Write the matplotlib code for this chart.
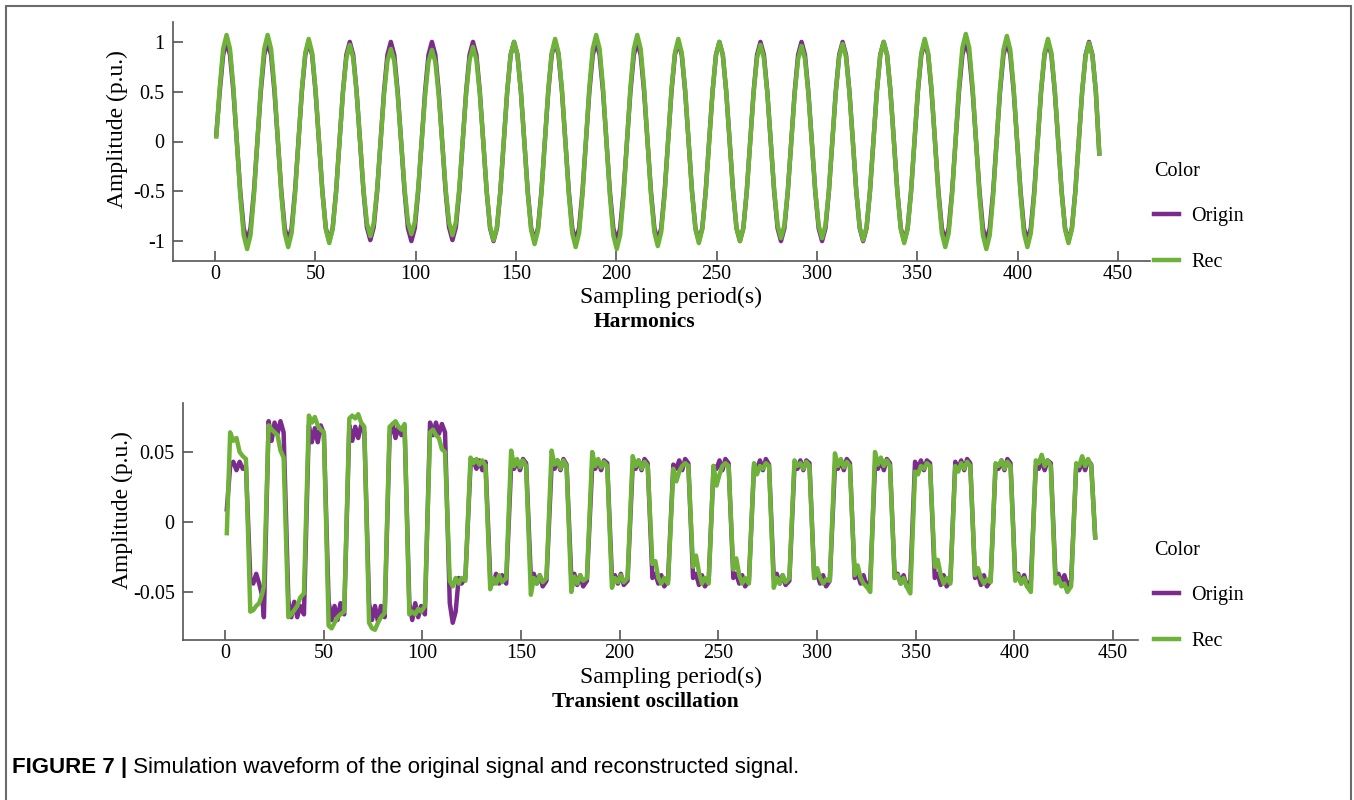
import numpy as np
import matplotlib.pyplot as plt
from matplotlib.patches import Rectangle

# ---- data ----
# Harmonics: one row per cycle (rising zero, ..., peak, ..., trough, ...), 12 samples per cycle
harm_start, harm_end = 0.68, 440.72
harm_origin_rows = [
    [0.07, 0.50, 0.87, 1.00, 0.87, 0.50, 0.0, -0.50, -0.87, -1.00, -0.87, -0.50],
    [0.0, 0.50, 0.87, 1.00, 0.87, 0.50, 0.0, -0.50, -0.87, -1.00, -0.87, -0.50],
    [0.0, 0.50, 0.87, 1.00, 0.87, 0.50, 0.0, -0.50, -0.87, -1.00, -0.87, -0.50],
    [0.0, 0.50, 0.87, 1.00, 0.87, 0.50, 0.0, -0.50, -0.86, -0.99, -0.86, -0.50],
    [0.0, 0.50, 0.87, 1.00, 0.87, 0.50, 0.0, -0.50, -0.87, -1.00, -0.87, -0.50],
    [0.0, 0.50, 0.87, 1.00, 0.87, 0.50, 0.0, -0.50, -0.86, -0.99, -0.86, -0.50],
    [0.0, 0.50, 0.87, 1.00, 0.87, 0.50, 0.0, -0.50, -0.87, -1.00, -0.87, -0.50],
    [0.0, 0.50, 0.87, 1.00, 0.87, 0.50, 0.0, -0.50, -0.87, -1.00, -0.87, -0.50],
    [0.0, 0.50, 0.87, 1.00, 0.87, 0.50, 0.0, -0.50, -0.87, -1.00, -0.87, -0.50],
    [0.0, 0.50, 0.87, 1.00, 0.87, 0.50, 0.0, -0.50, -0.87, -1.00, -0.87, -0.50],
    [0.0, 0.50, 0.87, 1.00, 0.87, 0.50, 0.0, -0.50, -0.87, -1.00, -0.87, -0.50],
    [0.0, 0.50, 0.87, 1.00, 0.87, 0.50, 0.0, -0.50, -0.87, -1.00, -0.87, -0.50],
    [0.0, 0.50, 0.87, 1.00, 0.87, 0.50, 0.0, -0.50, -0.87, -1.00, -0.87, -0.50],
    [0.0, 0.50, 0.87, 1.00, 0.87, 0.50, 0.0, -0.50, -0.87, -1.00, -0.87, -0.50],
    [0.0, 0.50, 0.87, 1.00, 0.87, 0.50, 0.0, -0.50, -0.87, -1.00, -0.87, -0.50],
    [0.0, 0.50, 0.87, 1.00, 0.87, 0.50, 0.0, -0.50, -0.87, -1.00, -0.87, -0.50],
    [0.0, 0.50, 0.87, 1.00, 0.87, 0.50, 0.0, -0.50, -0.87, -1.00, -0.87, -0.50],
    [0.0, 0.50, 0.87, 1.00, 0.87, 0.50, 0.0, -0.50, -0.87, -1.00, -0.87, -0.50],
    [0.0, 0.50, 0.87, 1.00, 0.87, 0.50, 0.0, -0.50, -0.87, -1.00, -0.87, -0.50],
    [0.0, 0.50, 0.87, 1.00, 0.87, 0.50, 0.0, -0.50, -0.87, -1.00, -0.87, -0.50],
    [0.0, 0.50, 0.87, 1.00, 0.87, 0.50, 0.0, -0.50, -0.87, -1.00, -0.87, -0.50],
    [0.0, 0.50, 0.87, 1.00, 0.87, 0.50, -0.12],
]
harm_rec_rows = [
    [0.05, 0.54, 0.93, 1.07, 0.93, 0.54, 0.0, -0.54, -0.94, -1.08, -0.94, -0.54],
    [0.0, 0.54, 0.93, 1.07, 0.93, 0.54, 0.0, -0.53, -0.92, -1.06, -0.92, -0.53],
    [0.0, 0.52, 0.89, 1.03, 0.89, 0.52, 0.0, -0.51, -0.88, -1.02, -0.88, -0.51],
    [0.0, 0.49, 0.84, 0.97, 0.84, 0.49, 0.0, -0.48, -0.82, -0.95, -0.82, -0.48],
    [0.0, 0.47, 0.81, 0.93, 0.81, 0.47, 0.0, -0.47, -0.81, -0.93, -0.81, -0.47],
    [0.0, 0.46, 0.80, 0.92, 0.80, 0.46, 0.0, -0.47, -0.81, -0.94, -0.81, -0.47],
    [0.0, 0.48, 0.82, 0.95, 0.82, 0.48, 0.0, -0.50, -0.86, -0.99, -0.86, -0.50],
    [0.0, 0.50, 0.87, 1.00, 0.87, 0.50, 0.0, -0.52, -0.89, -1.03, -0.89, -0.52],
    [0.0, 0.52, 0.89, 1.03, 0.89, 0.52, 0.0, -0.53, -0.92, -1.06, -0.92, -0.53],
    [0.0, 0.54, 0.93, 1.07, 0.93, 0.54, 0.0, -0.54, -0.94, -1.08, -0.94, -0.54],
    [0.0, 0.54, 0.93, 1.07, 0.93, 0.54, 0.0, -0.53, -0.91, -1.05, -0.91, -0.53],
    [0.0, 0.52, 0.89, 1.03, 0.89, 0.52, 0.0, -0.51, -0.88, -1.02, -0.88, -0.51],
    [0.0, 0.50, 0.87, 1.00, 0.87, 0.50, 0.0, -0.50, -0.87, -1.00, -0.87, -0.50],
    [0.0, 0.49, 0.84, 0.97, 0.84, 0.49, 0.0, -0.49, -0.84, -0.97, -0.84, -0.49],
    [0.0, 0.48, 0.83, 0.96, 0.83, 0.48, 0.0, -0.49, -0.84, -0.97, -0.84, -0.49],
    [0.0, 0.49, 0.85, 0.98, 0.85, 0.49, 0.0, -0.50, -0.86, -0.99, -0.86, -0.50],
    [0.0, 0.50, 0.87, 1.00, 0.87, 0.50, 0.0, -0.51, -0.88, -1.02, -0.88, -0.51],
    [0.0, 0.52, 0.89, 1.03, 0.89, 0.52, 0.0, -0.53, -0.92, -1.06, -0.92, -0.53],
    [0.0, 0.54, 0.94, 1.08, 0.94, 0.54, 0.0, -0.54, -0.94, -1.08, -0.94, -0.54],
    [0.0, 0.53, 0.92, 1.06, 0.92, 0.53, 0.0, -0.53, -0.92, -1.06, -0.92, -0.53],
    [0.0, 0.52, 0.89, 1.03, 0.89, 0.52, 0.0, -0.51, -0.88, -1.02, -0.88, -0.51],
    [0.0, 0.50, 0.86, 0.99, 0.86, 0.50, -0.12],
]

# Transient oscillation: breakpoints per cycle (high plateau, then low plateau)
osc_t_rows = [
    [0.9, 2.6, 4.2, 5.8, 7.4, 9.0, 10.6, 12.8, 14.3, 15.8, 17.3, 18.7, 19.7],
    [22.1, 23.6, 25.1, 26.6, 28.1, 29.7, 32.1, 33.6, 35.1, 36.6, 38.1, 40.0],
    [42.5, 44.0, 45.5, 47.0, 48.5, 50.1, 52.5, 54.0, 55.5, 57.0, 58.5, 60.4],
    [63.0, 64.5, 66.0, 67.5, 69.0, 70.6, 73.0, 74.5, 76.0, 77.5, 79.0, 80.9],
    [83.4, 84.9, 86.4, 87.9, 89.4, 91.0, 93.4, 94.9, 96.4, 97.9, 99.4, 101.3],
    [103.9, 105.4, 106.9, 108.4, 109.9, 111.5, 113.9, 115.4, 116.9, 118.4, 119.9, 121.8],
    [124.4, 125.9, 127.4, 128.9, 130.4, 132.0, 134.4, 135.9, 137.4, 138.9, 140.4, 142.5],
    [145.0, 146.5, 148.0, 149.5, 151.0, 152.6, 155.0, 156.5, 158.0, 159.5, 161.0, 162.9],
    [165.5, 167.0, 168.5, 170.0, 171.5, 173.1, 175.5, 177.0, 178.5, 180.0, 181.5, 183.4],
    [186.1, 187.6, 189.1, 190.6, 192.1, 193.7, 196.1, 197.6, 199.1, 200.6, 202.1, 204.0],
    [206.6, 208.1, 209.6, 211.1, 212.6, 214.2, 216.6, 218.1, 219.6, 221.1, 222.6, 224.5],
    [227.2, 228.7, 230.2, 231.7, 233.2, 234.8, 237.2, 238.7, 240.2, 241.7, 243.2, 245.1],
    [247.6, 249.1, 250.6, 252.1, 253.6, 255.2, 257.6, 259.1, 260.6, 262.1, 263.6, 265.5],
    [268.1, 269.6, 271.1, 272.6, 274.1, 275.7, 278.1, 279.6, 281.1, 282.6, 284.1, 286.0],
    [288.6, 290.1, 291.6, 293.1, 294.6, 296.2, 298.6, 300.1, 301.6, 303.1, 304.6, 306.5],
    [309.1, 310.6, 312.1, 313.6, 315.1, 316.7, 319.1, 320.6, 322.1, 323.6, 325.1, 327.0],
    [329.4, 330.9, 332.4, 333.9, 335.4, 337.0, 339.4, 340.9, 342.4, 343.9, 345.4, 347.3],
    [349.7, 351.2, 352.7, 354.2, 355.7, 357.3, 359.7, 361.2, 362.7, 364.2, 365.7, 367.6],
    [370.1, 371.6, 373.1, 374.6, 376.1, 377.7, 380.1, 381.6, 383.1, 384.6, 386.1, 388.0],
    [390.5, 392.0, 393.5, 395.0, 396.5, 398.1, 400.5, 402.0, 403.5, 405.0, 406.5, 408.4],
    [410.9, 412.4, 413.9, 415.4, 416.9, 418.5, 420.9, 422.4, 423.9, 425.4, 426.9, 428.8],
    [431.4, 432.9, 434.4, 435.9, 437.4, 439.0, 441.0],
]
osc_origin_rows = [
    [0.009, 0.040, 0.043, 0.037, 0.043, 0.038, 0.040, -0.040, -0.044, -0.037, -0.044, -0.052, -0.068],
    [0.072, 0.058, 0.071, 0.063, 0.072, 0.064, -0.056, -0.068, -0.057, -0.068, -0.060, -0.066],
    [0.069, 0.057, 0.067, 0.057, 0.069, 0.063, -0.057, -0.070, -0.060, -0.070, -0.058, -0.066],
    [0.069, 0.058, 0.068, 0.060, 0.069, 0.064, -0.058, -0.070, -0.060, -0.071, -0.060, -0.068],
    [0.062, 0.070, 0.060, 0.068, 0.062, 0.068, -0.058, -0.070, -0.058, -0.068, -0.060, -0.066],
    [0.071, 0.062, 0.071, 0.063, 0.070, 0.064, -0.058, -0.072, -0.064, -0.040, -0.044, -0.040],
    [0.040, 0.044, 0.038, 0.044, 0.037, 0.043, -0.040, -0.044, -0.037, -0.044, -0.038, -0.044],
    [0.040, 0.038, 0.044, 0.037, 0.045, 0.042, -0.040, -0.037, -0.044, -0.038, -0.046, -0.042],
    [0.040, 0.038, 0.044, 0.037, 0.045, 0.041, -0.040, -0.037, -0.045, -0.038, -0.046, -0.042],
    [0.040, 0.038, 0.044, 0.037, 0.044, 0.042, -0.040, -0.038, -0.044, -0.037, -0.045, -0.042],
    [0.040, 0.038, 0.044, 0.037, 0.045, 0.042, -0.040, -0.037, -0.044, -0.038, -0.046, -0.042],
    [0.041, 0.038, 0.044, 0.037, 0.045, 0.042, -0.040, -0.037, -0.045, -0.038, -0.046, -0.042],
    [0.040, 0.038, 0.044, 0.037, 0.045, 0.042, -0.040, -0.037, -0.044, -0.038, -0.046, -0.042],
    [0.040, 0.038, 0.044, 0.037, 0.045, 0.041, -0.040, -0.037, -0.044, -0.038, -0.045, -0.042],
    [0.040, 0.038, 0.044, 0.037, 0.044, 0.042, -0.040, -0.037, -0.044, -0.038, -0.046, -0.042],
    [0.040, 0.038, 0.044, 0.037, 0.045, 0.042, -0.040, -0.037, -0.044, -0.038, -0.046, -0.042],
    [0.040, 0.038, 0.044, 0.037, 0.045, 0.042, -0.040, -0.037, -0.044, -0.038, -0.046, -0.042],
    [0.043, 0.038, 0.044, 0.037, 0.044, 0.042, -0.040, -0.037, -0.045, -0.038, -0.046, -0.042],
    [0.043, 0.038, 0.044, 0.037, 0.045, 0.042, -0.040, -0.037, -0.045, -0.038, -0.046, -0.042],
    [0.040, 0.038, 0.044, 0.037, 0.045, 0.042, -0.040, -0.037, -0.044, -0.038, -0.046, -0.042],
    [0.040, 0.038, 0.044, 0.037, 0.044, 0.042, -0.040, -0.037, -0.044, -0.038, -0.045, -0.042],
    [0.040, 0.037, 0.044, 0.037, 0.044, 0.041, -0.011],
]
osc_rec_rows = [
    [-0.008, 0.064, 0.058, 0.060, 0.050, 0.047, 0.045, -0.064, -0.063, -0.060, -0.058, -0.052, -0.046],
    [0.069, 0.066, 0.064, 0.062, 0.051, 0.046, -0.068, -0.066, -0.063, -0.060, -0.054, -0.051],
    [0.076, 0.071, 0.075, 0.069, 0.066, 0.064, -0.074, -0.076, -0.072, -0.068, -0.066, -0.064],
    [0.074, 0.076, 0.074, 0.077, 0.071, 0.068, -0.072, -0.076, -0.077, -0.072, -0.068, -0.065],
    [0.068, 0.070, 0.072, 0.068, 0.066, 0.070, -0.066, -0.064, -0.066, -0.062, -0.064, -0.060],
    [0.064, 0.066, 0.062, 0.060, 0.052, 0.050, -0.042, -0.046, -0.040, -0.044, -0.040, -0.042],
    [0.046, 0.042, 0.045, 0.041, 0.044, 0.040, -0.048, -0.040, -0.044, -0.038, -0.043, -0.040],
    [0.051, 0.040, 0.045, 0.039, 0.044, 0.040, -0.052, -0.040, -0.044, -0.038, -0.043, -0.040],
    [0.051, 0.041, 0.044, 0.038, 0.044, 0.040, -0.050, -0.039, -0.044, -0.038, -0.042, -0.040],
    [0.050, 0.040, 0.045, 0.039, 0.043, 0.040, -0.047, -0.040, -0.043, -0.038, -0.043, -0.040],
    [0.047, 0.040, 0.044, 0.038, 0.043, 0.040, -0.030, -0.028, -0.040, -0.044, -0.040, -0.044],
    [0.038, 0.029, 0.036, 0.040, 0.042, 0.040, -0.032, -0.024, -0.036, -0.044, -0.040, -0.044],
    [0.040, 0.026, 0.034, 0.040, 0.042, 0.040, -0.034, -0.026, -0.038, -0.044, -0.040, -0.044],
    [0.042, 0.034, 0.040, 0.038, 0.042, 0.040, -0.047, -0.040, -0.044, -0.038, -0.043, -0.040],
    [0.044, 0.040, 0.042, 0.038, 0.043, 0.040, -0.040, -0.033, -0.040, -0.044, -0.041, -0.042],
    [0.049, 0.040, 0.045, 0.039, 0.043, 0.040, -0.038, -0.031, -0.040, -0.044, -0.046, -0.050],
    [0.050, 0.041, 0.046, 0.040, 0.044, 0.040, -0.040, -0.038, -0.044, -0.040, -0.046, -0.051],
    [0.036, 0.034, 0.040, 0.038, 0.042, 0.040, -0.032, -0.027, -0.038, -0.044, -0.040, -0.044],
    [0.040, 0.036, 0.042, 0.038, 0.043, 0.040, -0.038, -0.033, -0.040, -0.044, -0.041, -0.043],
    [0.042, 0.040, 0.044, 0.038, 0.043, 0.040, -0.042, -0.038, -0.044, -0.040, -0.046, -0.050],
    [0.044, 0.042, 0.048, 0.040, 0.044, 0.040, -0.044, -0.040, -0.046, -0.044, -0.050, -0.046],
    [0.042, 0.040, 0.047, 0.040, 0.045, 0.040, -0.011],
]

series_names = ["Origin", "Rec"]
series_colors = ["#7b2a8e", "#6fb23a"]
x_ticks = [0, 50, 100, 150, 200, 250, 300, 350, 400, 450]

harm_origin = np.concatenate(harm_origin_rows)
harm_rec = np.concatenate(harm_rec_rows)
harm_t = np.linspace(harm_start, harm_end, len(harm_rec))
osc_t = np.concatenate(osc_t_rows)
osc_origin = np.concatenate(osc_origin_rows)
osc_rec = np.concatenate(osc_rec_rows)

plt.rcParams['font.family'] = 'Liberation Serif'
plt.rcParams['axes.unicode_minus'] = False
FS = 14.5       # tick labels, legend
FS_LAB = 17     # axis labels
FS_TTL = 15.5   # panel titles
W, H = 1354, 800

fig = plt.figure(figsize=(13.54, 8), dpi=100)

def style_axes(ax):
    for s in ['top', 'right']:
        ax.spines[s].set_visible(False)
    for s in ['left', 'bottom']:
        ax.spines[s].set_color('#555555')
        ax.spines[s].set_linewidth(1.2)
    ax.tick_params(direction='in', length=7, width=1.2, color='#555555',
                   labelsize=FS, labelcolor='black')
    ax.tick_params(axis='x', pad=3)
    ax.tick_params(axis='y', pad=6)
    ax.set_xticks(x_ticks)
    ax.set_xticklabels([str(v) for v in x_ticks])

def add_legend(ax, top_px):
    ax.legend(title="Color", loc='upper left', bbox_to_anchor=(1154 / W, 1 - top_px / H),
              bbox_transform=fig.transFigure, frameon=False, alignment='left',
              borderpad=0, borderaxespad=0, handlelength=1.25, handletextpad=0.6,
              labelspacing=1.3, fontsize=FS, title_fontsize=FS)

# ---- Harmonics ----
ax1 = fig.add_axes([173 / W, 1 - 261 / H, 977 / W, 239 / H])
ax1.plot(harm_t, harm_origin, color=series_colors[0], lw=3.2, label=series_names[0])
ax1.plot(harm_t, harm_rec, color=series_colors[1], lw=3.2, label=series_names[1])
ax1.set_xlim(-20.9, 466)
ax1.set_ylim(-1.2, 1.2)
style_axes(ax1)
ax1.set_yticks([1, 0.5, 0, -0.5, -1])
ax1.set_yticklabels(['1', '0.5', '0', '-0.5', '-1'])
ax1.set_xlabel("Sampling period(s)", fontsize=FS_LAB)
ax1.xaxis.set_label_coords(0.51, -0.11)
ax1.set_ylabel("Amplitude (p.u.)", fontsize=FS_LAB)
ax1.yaxis.set_label_coords(-0.046, 0.55)
add_legend(ax1, 162)
fig.text(645 / W, 1 - 322 / H, "Harmonics", ha='center', va='center',
         fontsize=FS_TTL, fontweight='bold')

# ---- Transient oscillation ----
ax2 = fig.add_axes([183 / W, 1 - 640 / H, 955 / W, 237 / H])
ax2.plot(osc_t, osc_origin, color=series_colors[0], lw=3.2, label=series_names[0])
ax2.plot(osc_t, osc_rec, color=series_colors[1], lw=3.2, label=series_names[1])
ax2.set_xlim(-21.3, 462.7)
ax2.set_ylim(-0.0843, 0.085)
style_axes(ax2)
ax2.set_yticks([0.05, 0, -0.05])
ax2.set_yticklabels(['0.05', '0', '-0.05'])
ax2.set_xlabel("Sampling period(s)", fontsize=FS_LAB)
ax2.xaxis.set_label_coords(0.511, -0.112)
ax2.set_ylabel("Amplitude (p.u.)", fontsize=FS_LAB)
ax2.yaxis.set_label_coords(-0.052, 0.55)
add_legend(ax2, 541)
fig.text(645 / W, 1 - 702 / H, "Transient oscillation", ha='center', va='center',
         fontsize=FS_TTL, fontweight='bold')

# ---- caption and frame ----
cap = fig.text(12 / W, 1 - 768 / H, "FIGURE 7 |", ha='left', va='center',
               fontsize=16, fontweight='bold', family='Liberation Sans')
ax2.annotate(" Simulation waveform of the original signal and reconstructed signal.",
             xy=(1, 0.5), xycoords=cap, ha='left', va='center', fontsize=16,
             family='Liberation Sans', annotation_clip=False)
fig.add_artist(Rectangle((6 / W, -0.1), (1351 - 6) / W, 1.1 - 6 / H,
                         transform=fig.transFigure, fill=False,
                         edgecolor='#6b6b6b', linewidth=1.5))

fig.savefig("out.png", dpi=100)
